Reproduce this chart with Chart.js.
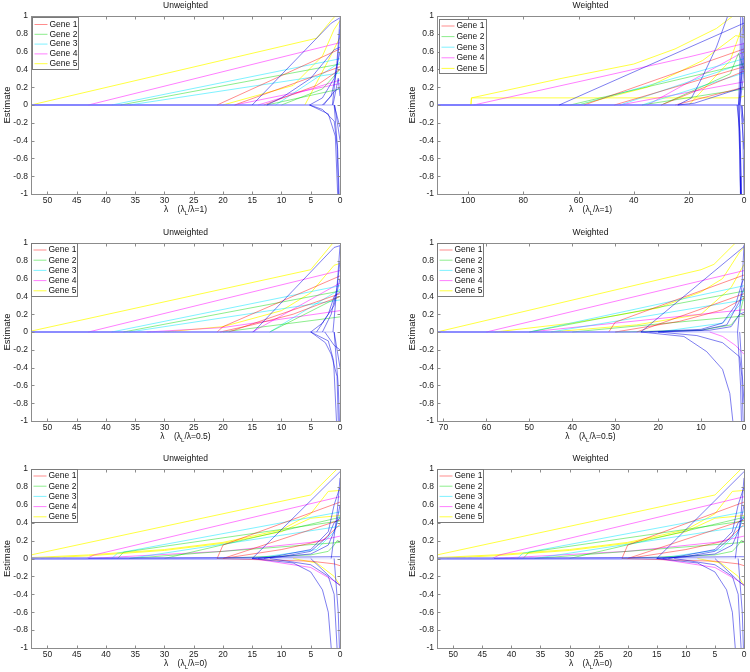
<!DOCTYPE html>
<html>
<head>
<meta charset="utf-8">
<script src="https://cdn.jsdelivr.net/npm/chart.js@4.4.0/dist/chart.umd.min.js"></script>
<style>
  body { margin: 0; background: #fff; width: 750px; height: 672px; position: relative; overflow: hidden; }
  canvas { position: absolute; }
</style>
</head>
<body>
<canvas id="p1"></canvas>
<canvas id="p2"></canvas>
<canvas id="p3"></canvas>
<canvas id="p4"></canvas>
<canvas id="p5"></canvas>
<canvas id="p6"></canvas>
<script>
// ---- data: each path is a list of [lambda, estimate] knots, zero before its first knot ----
const geneLabels = ['Gene 1', 'Gene 2', 'Gene 3', 'Gene 4', 'Gene 5'];
const yTicks = [-1, -0.8, -0.6, -0.4, -0.2, 0, 0.2, 0.4, 0.6, 0.8, 1];
const xTicks50 = [0, 5, 10, 15, 20, 25, 30, 35, 40, 45, 50];
const xTicks100 = [0, 20, 40, 60, 80, 100];
const xTicks70 = [0, 10, 20, 30, 40, 50, 60, 70];

// panel 1: unweighted, lambda_L/lambda = 1
const p1Gene1 = [[[21, 0], [0, 0.63]], [[18, 0], [0, 0.43]], [[13, 0], [4, 0.22], [0, 0.4]]];
const p1Gene2 = [[[37.5, 0], [0, 0.46]], [[12.5, 0], [0, 0.18]], [[10, 0], [3, 0.18], [0, 0.4]]];
const p1Gene3 = [[[39, 0], [0, 0.52]], [[36, 0], [0, 0.36]], [[11, 0], [0, 0.48]]];
const p1Gene4 = [[[43, 0], [0, 0.7]], [[18, 0], [0, 0.24]], [[14, 0], [0, 0.28]]];
const p1Gene5 = [[[52.8, 0], [4, 0.75], [1.5, 0.95], [0.8, 1]], [[20, 0], [8, 0.22], [3, 0.55], [1, 0.85], [0, 0.95]], [[6, 0], [2, 0.5], [0, 0.76]]];
const p1Other = [
  [[15, 0], [1.5, 0.92], [0, 0.98]], [[12.5, 0], [10, 0.08], [5, 0.3], [1, 0.62], [0, 0.65]],
  [[5.2, 0], [3, -0.05], [1, -0.18], [0.5, -0.45], [0.25, -1]], [[5.2, 0], [2, -0.1], [0.8, -0.35], [0.4, -1]],
  [[5.2, 0], [3, 0.08], [1, 0.3], [0, 0.6]], [[3, 0], [1.5, 0.1], [0.5, 0.4], [0, 0.85]],
  [[2.8, 0], [1, 0.15], [0, 0.2]], [[1.3, 0], [0.5, 0.5], [0, 0.97]], [[1, 0], [0.4, -0.5], [0.15, -1]],
  [[1, 0], [0, -0.25]], [[0.9, 0], [0, -0.4]], [[1.2, 0], [0.3, 0.3], [0, 0.1]]
];

// panel 2: weighted, lambda_L/lambda = 1
const p2Gene1 = [[[58, 0], [0, 0.63]], [[47, 0], [0, 0.43]], [[30, 0], [0, 0.38]], [[25, 0], [0, 0.2]]];
const p2Gene2 = [[[63, 0], [0, 0.46]], [[37, 0], [0, 0.18]], [[30, 0], [5, 0.35], [2, 0.58], [0, 0.4]]];
const p2Gene3 = [[[60, 0], [0, 0.52]], [[37, 0], [0, 0.36]], [[45, 0], [0, 0.47]]];
const p2Gene4 = [[[98, 0], [50, 0.33], [20, 0.54], [0, 0.69]], [[45, 0], [0, 0.26]], [[35, 0], [0, 0.6]]];
const p2Gene5 = [
  [[99, 0], [98.8, 0.08], [66, 0.3], [40, 0.46], [25, 0.63], [10, 0.86], [4, 1]],
  [[99, 0], [98.8, 0.08], [2, 0.08], [0, 0.1]],
  [[60, 0], [35, 0.2], [15, 0.5], [3, 0.78], [0, 0.76]], [[20, 0], [5, 0.5], [1, 0.85], [0, 0.9]]
];
const p2Other = [
  [[67, 0], [0, 0.92]], [[24, 0], [19, 0.08], [15, 0.32], [10, 0.65], [5.9, 1]], [[24, 0], [18, 0.02], [1, 0.19], [0, 0.2]],
  [[2.5, 0], [1.5, -0.3], [1, -1]], [[1.8, 0], [1.2, -0.6], [0.9, -1]], [[1.5, 0], [0.5, 0.6], [0, 0.98]],
  [[1.2, 0], [0, -0.5]], [[0.6, 0], [0, -1]], [[2, 0], [0.5, 0.4], [0, 0.7]], [[1, 0], [0, -0.2]], [[1.5, 0], [0.3, 0.3], [0, 0.55]],
  [[2.2, 0], [1.6, -0.5], [1.3, -1]], [[2, 0], [1.5, 0.4], [1.2, 1]], [[1.8, 0], [1.4, -0.8], [1.2, -1]], [[1.6, 0], [1, 0.5], [0.5, 1]]
];

// panel 3: unweighted, lambda_L/lambda = 0.5
const p3Gene1 = [[[21, 0], [20, 0.06], [0, 0.63]], [[19, 0], [0, 0.43]], [[20.5, 0], [15, 0.08], [8, 0.2], [0, 0.4]]];
const p3Gene2 = [[[37, 0], [0, 0.46]], [[20, 0], [0, 0.17]], [[12, 0], [0, 0.4]]];
const p3Gene3 = [[[39, 0], [0, 0.52]], [[36, 0], [0, 0.36]], [[12, 0], [0, 0.48]]];
const p3Gene4 = [[[43, 0], [0, 0.69]], [[33, 0], [20, 0.05], [0, 0.24]], [[15, 0], [0, 0.55]]];
const p3Gene5 = [[[52.8, 0.01], [5, 0.7], [1.2, 1]], [[30, 0], [20, 0.06], [10, 0.24], [5, 0.44], [1, 0.75], [0, 0.77]]];
const p3Other = [
  [[14.8, 0], [1, 0.95], [0, 0.97]], [[5, 0], [3, 0.1], [1, 0.3], [0, 0.6]],
  [[5, 0], [2, -0.1], [1.1, -0.32], [0.6, -1]], [[5, 0], [2.5, -0.12], [1.5, -0.25], [0.5, -0.5], [0.3, -1]],
  [[2.6, 0], [1, -0.15], [0, -0.2]], [[3, 0], [1.5, 0.2], [0.5, 0.5], [0, 0.8]], [[4, 0], [2, 0.2], [1, 0.4], [0, 0.45]],
  [[1.2, 0], [0.4, 0.6], [0, 0.97]], [[1, 0], [0.3, -0.6], [0.1, -1]], [[1, 0], [0, -0.4]]
];

// panel 4: weighted, lambda_L/lambda = 0.5
const p4Gene1 = [[[31.5, 0], [30, 0.11], [0, 0.64]], [[25, 0], [0, 0.43]], [[30, 0], [15, 0.12], [5, 0.25], [0, 0.38]]];
const p4Gene2 = [[[50, 0], [0, 0.46]], [[40, 0], [0, 0.18]], [[30, 0], [10, 0.02], [3, 0.08], [1, 0.2], [0, 0.4]]];
const p4Gene3 = [[[50, 0], [0, 0.52]], [[45, 0], [0, 0.36]], [[20, 0], [5, 0.1], [1, 0.3], [0, 0.48]]];
const p4Gene4 = [[[60, 0], [0, 0.69]], [[50, 0], [0, 0.25]], [[8, 0], [5, -0.05], [2, -0.15], [0, -0.25]]];
const p4Gene5 = [
  [[71.5, 0], [10, 0.7], [7, 0.76], [2, 1]],
  [[58, 0], [40, 0.1], [20, 0.27], [10, 0.45], [5, 0.6], [1, 0.9], [0, 0.95]],
  [[45, 0], [25, 0.08], [10, 0.2], [3, 0.5], [0, 0.76]]
];
const p4Other = [
  [[24, 0], [0, 0.96]], [[24, 0], [10, 0.03], [5, 0.1], [2, 0.3], [0.5, 0.55], [0, 0.6]],
  [[22, 0], [10, 0.02], [4, 0.08], [1, 0.35], [0, 0.5]], [[20, 0], [8, 0.02], [3, 0.06], [1, 0.2], [0, 0.22]],
  [[24, 0], [14, -0.05], [8.7, -0.22], [5, -0.42], [3.3, -0.69], [2.6, -1]],
  [[20, 0], [11, -0.04], [5, -0.12], [1, -0.28], [0.5, -0.5], [0.2, -1]],
  [[1.5, 0], [0.8, -0.6], [0.6, -1]], [[1, 0], [0, -0.8]], [[1.5, 0], [0.5, 0.5], [0, 0.98]]
];

// panels 5 and 6: lambda_L/lambda = 0 (both look the same)
const p5Gene1 = [[[21, 0], [20, 0.15], [0, 0.63]], [[20, 0], [0, 0.43]], [[21, 0], [5, -0.03], [1, -0.06], [0, -0.08]], [[20, 0], [10, 0.1], [3, 0.2], [0, 0.38]]];
const p5Gene2 = [[[38, 0], [37, 0.07], [0, 0.42]], [[36, 0], [0, 0.18]], [[21, 0], [5, 0.04], [2, 0.08], [1, 0.15], [0.5, 0.2], [0, 0.19]], [[30, 0], [0, 0.46]]];
const p5Gene3 = [[[39, 0], [38, 0.06], [0, 0.52]], [[36, 0], [0, 0.36]], [[15, 0], [4, 0.1], [1, 0.3], [0, 0.48]]];
const p5Gene4 = [[[43.3, 0], [42, 0.04], [0, 0.69]], [[43, 0], [20, 0.08], [5, 0.18], [0, 0.25]], [[15, 0], [5, -0.1], [1, -0.25], [0, -0.3]]];
const p5Gene5 = [
  [[52.8, 0.04], [5, 0.71], [0.5, 1]],
  [[52.8, 0.01], [43, 0.04], [30, 0.1], [20, 0.18], [10, 0.32], [5, 0.5], [2, 0.75], [0, 0.76]],
  [[52.8, 0], [43, 0.03], [30, 0.09], [20, 0.17], [10, 0.3], [5, 0.45], [0, 0.48]],
  [[8, 0], [4, -0.05], [1, -0.2], [0, -0.3]]
];
const p5Other = [
  [[15, 0], [0, 0.97]], [[15, 0], [10, 0.02], [5, 0.08], [2, 0.25], [1, 0.4], [0, 0.45]],
  [[14, 0], [5, 0.05], [2, 0.15], [0.7, 0.35], [0, 0.6]], [[13, 0], [5, 0.1], [2, 0.3], [1, 0.6], [0, 0.8]],
  [[15, 0], [8, -0.05], [5, -0.15], [3, -0.35], [2, -0.6], [1.5, -1]], [[12, 0], [5, -0.07], [2, -0.2], [1, -0.4], [0.5, -1]],
  [[5, 0], [1, -0.25], [0, -0.3]], [[1, 0], [0.3, -0.6], [0.1, -1]], [[43, 0], [20, 0.01], [1, 0.02], [0, 0.02]],
  [[1.5, 0], [0.5, 0.5], [0, 0.9]]
];

// ---- drawing ----
const FONT = '"Liberation Sans", Arial, Helvetica, sans-serif';
const geneColors = ['rgba(255,0,0,0.45)', 'rgba(0,215,0,0.45)', 'rgba(0,230,255,0.5)', 'rgba(255,0,255,0.5)', 'rgba(255,255,0,0.75)'];
const otherColor = 'rgba(0,0,225,0.5)';
const zeroColor = 'rgba(110,110,255,0.07)';

function buildDatasets(groups, xMax) {
  const out = [];
  groups.forEach(([paths, color]) => {
    paths.forEach(p => {
      const pts = [{ x: xMax, y: p[0][1] }].concat(p.map(([x, y]) => ({ x, y })));
      const flat = c => c.p0.parsed.y === 0 && c.p1.parsed.y === 0;
      out.push({
        data: pts, borderColor: color, borderWidth: 1, pointRadius: 0, fill: false, tension: 0,
        segment: { borderColor: c => flat(c) ? zeroColor : undefined, borderWidth: c => flat(c) ? 2 : undefined }
      });
    });
  });
  return out;
}

const decor = {
  id: 'decor',
  afterDraw(chart, args, o) {
    const { ctx, chartArea: a } = chart;
    const xs = chart.scales.x, ys = chart.scales.y;
    ctx.save();
    ctx.strokeStyle = '#8c8c8c';
    ctx.lineWidth = 1;
    const L = Math.round(a.left) + 0.5, T = Math.round(a.top) + 0.5;
    const R = Math.round(a.right) + 0.5, B = Math.round(a.bottom) + 0.5;
    ctx.strokeRect(L, T, R - L, B - T);
    ctx.beginPath();
    o.xTicks.forEach(v => {
      const px = Math.round(xs.getPixelForValue(v)) + 0.5;
      ctx.moveTo(px, B); ctx.lineTo(px, B - 3);
      ctx.moveTo(px, T); ctx.lineTo(px, T + 3);
    });
    yTicks.forEach(v => {
      const py = Math.round(ys.getPixelForValue(v)) + 0.5;
      ctx.moveTo(L, py); ctx.lineTo(L + 3, py);
      ctx.moveTo(R, py); ctx.lineTo(R - 3, py);
    });
    ctx.stroke();

    ctx.fillStyle = '#111';
    ctx.textAlign = 'center';
    ctx.textBaseline = 'middle';
    ctx.font = '8.5px ' + FONT;
    const cx = (a.left + a.right) / 2;
    ctx.fillText(o.title, cx, a.top - 10);

    ctx.save();
    ctx.translate(o.yLabelX, (a.top + a.bottom) / 2);
    ctx.rotate(-Math.PI / 2);
    ctx.font = '9.5px ' + FONT;
    ctx.fillText('Estimate', 0, 0);
    ctx.restore();

    // x label: λ   (λ_L/λ=r)
    const big = '8.5px ' + FONT, small = '6px ' + FONT;
    const s1 = 'λ    (λ', s2 = 'L', s3 = '/λ=' + o.ratio + ')';
    ctx.font = big; const w1 = ctx.measureText(s1).width, w3 = ctx.measureText(s3).width;
    ctx.font = small; const w2 = ctx.measureText(s2).width;
    const x0 = cx - (w1 + w2 + w3) / 2;
    const yl = a.bottom + 16;
    ctx.textAlign = 'left';
    ctx.font = big; ctx.fillText(s1, x0, yl);
    ctx.font = small; ctx.fillText(s2, x0 + w1, yl + 3);
    ctx.font = big; ctx.fillText(s3, x0 + w1 + w2, yl);

    // legend box
    const lg = o.legend;
    const bx = Math.round(a.left + lg.dx) + 0.5, by = Math.round(a.top + lg.dy) + 0.5;
    ctx.fillStyle = '#fff';
    ctx.fillRect(bx, by, lg.w, lg.h);
    ctx.strokeStyle = '#7a7a7a';
    ctx.strokeRect(bx, by, lg.w, lg.h);
    ctx.font = '8.5px ' + FONT;
    geneLabels.forEach((g, i) => {
      const ry = by + lg.first + i * lg.gap;
      ctx.strokeStyle = geneColors[i];
      ctx.beginPath(); ctx.moveTo(bx + 2, ry); ctx.lineTo(bx + 15, ry); ctx.stroke();
      ctx.fillStyle = '#111';
      ctx.fillText(g, bx + 17, ry);
    });
    ctx.restore();
  }
};

function panel(id, cfg) {
  const cv = document.getElementById(id);
  cv.width = cfg.w; cv.height = cfg.h;
  cv.style.left = cfg.left + 'px'; cv.style.top = cfg.top + 'px';
  const tickFont = { family: FONT, size: 8.5 };
  new Chart(cv, {
    type: 'line',
    data: { datasets: buildDatasets(cfg.groups, cfg.xMax) },
    options: {
      responsive: false,
      animation: false,
      events: [],
      layout: { padding: { top: cfg.plot[1], right: cfg.w - cfg.plot[2], left: 0, bottom: 0 } },
      scales: {
        x: {
          type: 'linear', reverse: true, min: 0, max: cfg.xMax,
          grid: { display: false, drawTicks: false }, border: { display: false },
          afterBuildTicks: s => { s.ticks = cfg.xTicks.map(v => ({ value: v })); },
          afterFit: s => { s.height = cfg.h - cfg.plot[3]; },
          ticks: { autoSkip: false, maxRotation: 0, padding: 2, font: tickFont, color: '#222', callback: v => String(v) }
        },
        y: {
          min: -1, max: 1,
          grid: { display: false, drawTicks: false }, border: { display: false },
          afterBuildTicks: s => { s.ticks = yTicks.map(v => ({ value: v })); },
          afterFit: s => { s.width = cfg.plot[0]; },
          ticks: { autoSkip: false, padding: 3, font: tickFont, color: '#222', callback: v => String(v) }
        }
      },
      plugins: {
        legend: { display: false },
        tooltip: { enabled: false },
        decor: { title: cfg.title, ratio: cfg.ratio, xTicks: cfg.xTicks, yLabelX: cfg.yLabelX, legend: cfg.legend }
      }
    },
    plugins: [decor]
  });
}

function groupsOf(g1, g2, g3, g4, g5, other) {
  return [[other, otherColor], [g1, geneColors[0]], [g2, geneColors[1]], [g3, geneColors[2]], [g4, geneColors[3]], [g5, geneColors[4]]];
}

const legL = { dx: 1, dy: 1, w: 46, h: 52, first: 7, gap: 9.8 };
const legR = { dx: 2, dy: 3, w: 47, h: 54, first: 6.5, gap: 10.6 };
const legM = { dx: 0, dy: 0, w: 46, h: 53, first: 6.5, gap: 10.2 };

panel('p1', { left: 0, top: 0, w: 375, h: 224, plot: [31, 16, 340, 194], xMax: 52.8, xTicks: xTicks50,
  title: 'Unweighted', ratio: '1', yLabelX: 7, legend: legL,
  groups: groupsOf(p1Gene1, p1Gene2, p1Gene3, p1Gene4, p1Gene5, p1Other) });
panel('p2', { left: 375, top: 0, w: 375, h: 224, plot: [62, 16, 369, 194], xMax: 111.3, xTicks: xTicks100,
  title: 'Weighted', ratio: '1', yLabelX: 37, legend: legR,
  groups: groupsOf(p2Gene1, p2Gene2, p2Gene3, p2Gene4, p2Gene5, p2Other) });
panel('p3', { left: 0, top: 224, w: 375, h: 226, plot: [31, 19, 340, 197], xMax: 52.8, xTicks: xTicks50,
  title: 'Unweighted', ratio: '0.5', yLabelX: 7, legend: legM,
  groups: groupsOf(p3Gene1, p3Gene2, p3Gene3, p3Gene4, p3Gene5, p3Other) });
panel('p4', { left: 375, top: 224, w: 375, h: 226, plot: [62, 19, 369, 197], xMax: 71.5, xTicks: xTicks70,
  title: 'Weighted', ratio: '0.5', yLabelX: 37, legend: legM,
  groups: groupsOf(p4Gene1, p4Gene2, p4Gene3, p4Gene4, p4Gene5, p4Other) });
panel('p5', { left: 0, top: 450, w: 375, h: 222, plot: [31, 19, 340, 198], xMax: 52.8, xTicks: xTicks50,
  title: 'Unweighted', ratio: '0', yLabelX: 7, legend: legM,
  groups: groupsOf(p5Gene1, p5Gene2, p5Gene3, p5Gene4, p5Gene5, p5Other) });
panel('p6', { left: 375, top: 450, w: 375, h: 222, plot: [62, 19, 369, 198], xMax: 52.8, xTicks: xTicks50,
  title: 'Weighted', ratio: '0', yLabelX: 37, legend: legM,
  groups: groupsOf(p5Gene1, p5Gene2, p5Gene3, p5Gene4, p5Gene5, p5Other) });
</script>
</body>
</html>
